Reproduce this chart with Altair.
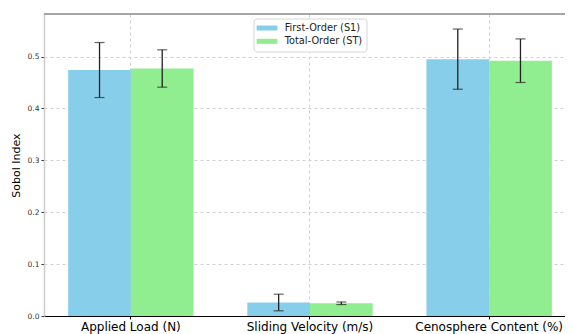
import altair as alt
import pandas as pd

categories = ["Applied Load (N)", "Sliding Velocity (m/s)", "Cenosphere Content (%)"]
series = ["First-Order (S1)", "Total-Order (ST)"]
s1_values = [0.474, 0.026, 0.495]
s1_errors = [0.053, 0.016, 0.058]
st_values = [0.477, 0.0245, 0.492]
st_errors = [0.036, 0.0025, 0.042]
y_ticks = [0.0, 0.1, 0.2, 0.3, 0.4, 0.5]
colors = ["#87CEEB", "#90EE90"]

rows = []
for i, c in enumerate(categories):
    rows.append({"cat": c, "series": series[0], "value": s1_values[i], "err": s1_errors[i]})
    rows.append({"cat": c, "series": series[1], "value": st_values[i], "err": st_errors[i]})
df = pd.DataFrame(rows)

font = "DejaVu Sans"
FULL_W = 532
VIEW_W = 521

x_scale = alt.Scale(paddingInner=0.3, paddingOuter=0.135, range=[0, FULL_W])
x_enc = alt.X("cat:N", sort=categories, title=None, scale=x_scale,
              axis=alt.Axis(labelAngle=0, labelFontSize=12, labelColor="#000", labelFont=font,
                            domainColor="#000", domainWidth=1.2, tickColor="#000", tickSize=3,
                            grid=True, gridDash=[3, 3], gridColor="#d0d0d0", bandPosition=0.5,
                            labelPadding=2))
xoff = alt.XOffset("series:N", sort=series)
y_scale = alt.Scale(domain=[0, 0.582], nice=False)

base = alt.Chart(df)

legend_box = alt.Chart(pd.DataFrame({"a": [0]})).mark_rect(
    fill="white", stroke="#d6d6d6", strokeWidth=1, cornerRadius=3
).encode(x=alt.value(210), x2=alt.value(323), y=alt.value(5), y2=alt.value(38))

bars = base.mark_bar(strokeWidth=0).encode(
    x=x_enc,
    xOffset=xoff,
    y=alt.Y("value:Q", scale=y_scale, title="Sobol Index",
            axis=alt.Axis(values=y_ticks, format=".1f", labelFontSize=7.5, labelFont=font,
                          labelColor="#333", titleFont=font, titleFontSize=11,
                          titleFontWeight="normal", titleColor="#000",
                          domainColor="#cccccc", domainWidth=1.5, tickColor="#333", tickSize=3,
                          grid=True, gridDash=[3, 3], gridColor="#d0d0d0", titlePadding=6)),
    color=alt.Color("series:N", sort=series, scale=alt.Scale(domain=series, range=colors),
                    legend=alt.Legend(title=None, orient="none", legendX=216, legendY=7,
                                      symbolType="M-1.48,-0.36H1.48V0.36H-1.48Z", symbolSize=196,
                                      symbolStrokeWidth=0, labelFont=font, labelFontSize=9.8,
                                      labelColor="#222", padding=0, rowPadding=1.3,
                                      labelOffset=10.7)),
)

top_spine = alt.Chart(pd.DataFrame({"a": [0]})).mark_rule(color="#888888", strokeWidth=1.4).encode(
    x=alt.value(0), x2=alt.value(FULL_W), y=alt.value(0))

err = base.transform_calculate(
    lo="datum.value - datum.err", hi="datum.value + datum.err"
)

rules = err.mark_rule(color="#222", strokeWidth=1.3).encode(
    x=alt.X("cat:N", sort=categories), xOffset=xoff,
    y=alt.Y("lo:Q", scale=y_scale), y2="hi:Q")
cap_lo = err.mark_tick(color="#222", thickness=1.2, size=10).encode(
    x=alt.X("cat:N", sort=categories), xOffset=xoff, y=alt.Y("lo:Q", scale=y_scale))
cap_hi = err.mark_tick(color="#222", thickness=1.2, size=10).encode(
    x=alt.X("cat:N", sort=categories), xOffset=xoff, y=alt.Y("hi:Q", scale=y_scale))

chart = alt.layer(bars, rules, cap_lo, cap_hi, top_spine, legend_box).properties(
    width=VIEW_W, height=302, autosize="none",
    padding={"left": 36, "top": 6, "right": 0, "bottom": 18},
).configure_view(stroke=None).configure_scale(
    bandWithNestedOffsetPaddingInner=0, bandWithNestedOffsetPaddingOuter=0
)

chart.save("out.html", embed_options={"renderer": "svg", "actions": False})
